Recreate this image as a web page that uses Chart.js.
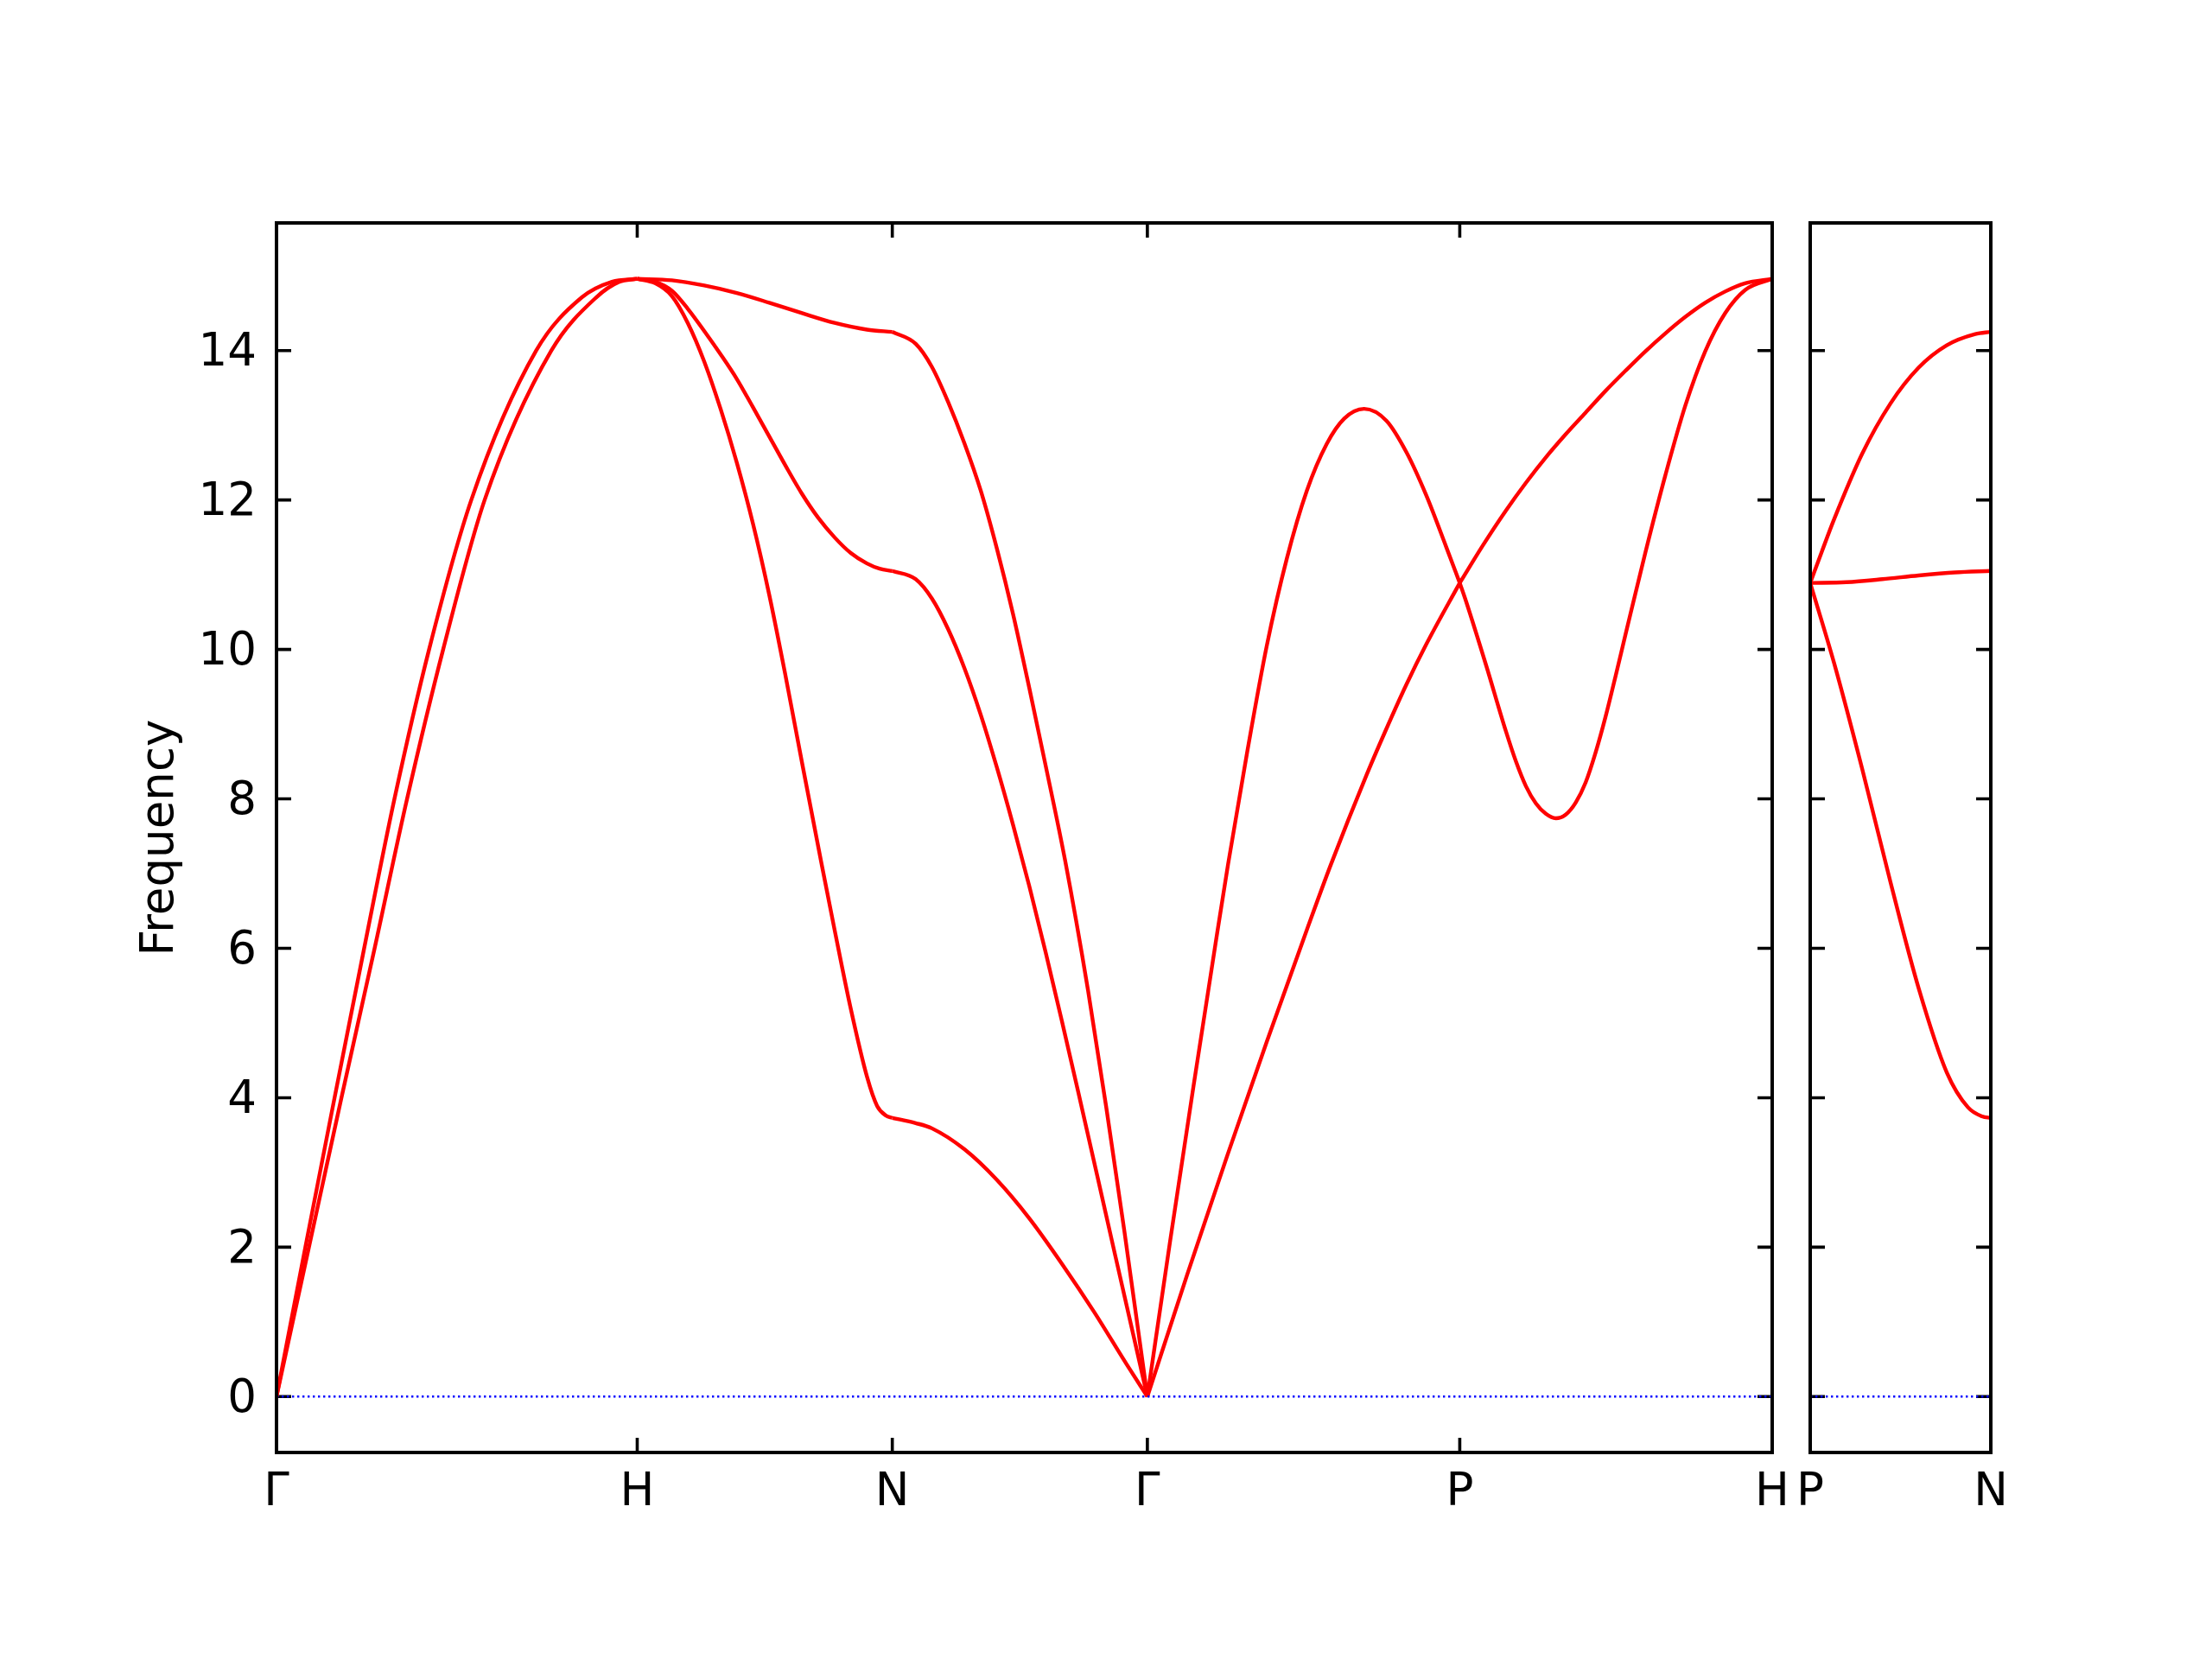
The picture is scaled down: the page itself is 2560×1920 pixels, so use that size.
<!DOCTYPE html>
<html>
<head>
<meta charset="utf-8">
<script src="https://cdn.jsdelivr.net/npm/chart.js@4/dist/chart.umd.min.js"></script>
<style>
  body { margin: 0; background: #fff; }
  #wrap { position: relative; width: 2560px; height: 1920px; }
  canvas { position: absolute; left: 0; top: 0; }
</style>
</head>
<body>
<div id="wrap">
  <canvas id="mainChart" width="2560" height="1920"></canvas>
  <canvas id="sideChart" width="2560" height="1920"></canvas>
</div>
<script>
// k-path ticks (path distance) and labels
const kPos = [0, 1, 1.7071, 2.4142, 3.2802, 4.1463];
const kLabels = ["Γ", "H", "N", "Γ", "P", "H"];
const sidePos = [0, 0.5];
const sideLabels = ["P", "N"];
const yTicks = [0, 2, 4, 6, 8, 10, 12, 14];
const yMin = -0.748;
const yMax = 15.708;

// Bands, segment by segment, as [distance, frequency]
const bandGH1 = [[0,0],[0.08,2],[0.161,4],[0.243,6],[0.327,8],[0.423,10],[0.54,12],[0.72,14],[0.846,14.71],[0.93,14.92],[1,14.96]];
const bandGH2 = [[0,0],[0.09,2],[0.18,4],[0.272,6],[0.362,8],[0.462,10],[0.577,12],[0.762,14],[0.886,14.71],[0.95,14.92],[1,14.96]];

const bandHN1 = [[1,14.96],[1.096,14.94],[1.186,14.87],[1.276,14.77],[1.366,14.64],[1.457,14.5],[1.547,14.37],[1.637,14.28],[1.7071,14.25]];
const bandHN2 = [[1,14.96],[1.05,14.92],[1.096,14.8],[1.14,14.56],[1.186,14.26],[1.231,13.95],[1.276,13.62],[1.321,13.24],[1.366,12.85],[1.411,12.46],[1.457,12.08],[1.502,11.76],[1.547,11.5],[1.592,11.29],[1.637,11.15],[1.672,11.08],[1.7071,11.05]];
const bandHN3 = [[1,14.96],[1.05,14.9],[1.096,14.73],[1.14,14.37],[1.186,13.85],[1.231,13.22],[1.276,12.5],[1.321,11.68],[1.366,10.73],[1.411,9.65],[1.457,8.48],[1.511,7.13],[1.547,6.25],[1.592,5.19],[1.637,4.28],[1.665,3.89],[1.69,3.76],[1.7071,3.73]];

const bandNG1 = [[1.7071,14.25],[1.772,14.09],[1.817,13.78],[1.862,13.31],[1.907,12.76],[1.952,12.13],[1.997,11.35],[2.042,10.47],[2.087,9.48],[2.132,8.45],[2.186,7.18],[2.25,5.43],[2.3,3.88],[2.35,2.23],[2.4142,0]];
const bandNG2 = [[1.7071,11.05],[1.772,10.94],[1.817,10.68],[1.862,10.27],[1.907,9.75],[1.952,9.13],[1.997,8.42],[2.042,7.65],[2.087,6.83],[2.132,5.95],[2.177,5.03],[2.222,4.09],[2.275,2.96],[2.326,1.87],[2.376,0.81],[2.4142,0]];
const bandNG3 = [[1.7071,3.73],[1.772,3.66],[1.817,3.59],[1.907,3.31],[1.997,2.9],[2.087,2.385],[2.177,1.78],[2.267,1.13],[2.357,0.43],[2.4142,0]];

const bandGP1 = [[2.4142,0],[2.478,2.106],[2.542,4.152],[2.603,6.058],[2.638,7.127],[2.6905,8.615],[2.7457,10.06],[2.801,11.22],[2.856,12.12],[2.9114,12.75],[2.96,13.09],[3.015,13.22],[3.077,13.06],[3.1322,12.64],[3.1875,12.06],[3.2427,11.37],[3.2802,10.89]];
const bandGP2 = [[2.4142,0],[2.5248,1.635],[2.6353,3.22],[2.7457,4.756],[2.8562,6.245],[2.9224,7.114],[3.0218,8.32],[3.077,8.94],[3.1322,9.53],[3.1875,10.07],[3.2802,10.89]];

const bandPH1 = [[3.2802,10.89],[3.2979,10.64],[3.3531,9.79],[3.4084,8.9],[3.436,8.5],[3.4636,8.17],[3.4912,7.94],[3.5188,7.8],[3.5464,7.74],[3.574,7.79],[3.6016,7.95],[3.6292,8.22],[3.6568,8.62],[3.6844,9.1],[3.712,9.64],[3.7397,10.2],[3.7949,11.3],[3.8501,12.33],[3.9053,13.26],[3.9606,13.99],[4.0158,14.5],[4.071,14.81],[4.1463,14.96]];
const bandPH2 = [[3.2802,10.89],[3.344,11.39],[3.4084,11.86],[3.4636,12.23],[3.5188,12.57],[3.574,12.88],[3.6292,13.17],[3.6844,13.46],[3.7397,13.73],[3.7949,13.99],[3.8501,14.23],[3.9053,14.45],[3.9606,14.64],[4.0158,14.79],[4.071,14.9],[4.1463,14.96]];

// second panel: P -> N
const bandPN1 = [[0,10.89],[0.033,11.32],[0.066,11.74],[0.144,12.62],[0.222,13.29],[0.3,13.77],[0.378,14.07],[0.457,14.22],[0.5,14.25]];
const bandPN2 = [[0,10.89],[0.1,10.9],[0.2,10.94],[0.3,10.99],[0.4,11.03],[0.5,11.05]];
const bandPN3 = [[0,10.89],[0.066,9.82],[0.144,8.4],[0.222,6.89],[0.3,5.47],[0.378,4.34],[0.437,3.87],[0.476,3.75],[0.5,3.73]];

const FONT = "DejaVu Sans";
const FONT_SIZE = 53;
const TICK_LEN = 17;

Chart.defaults.font.family = FONT;
Chart.defaults.color = "#000";

const toPoints = arr => arr.map(([x, y]) => ({ x, y }));

function bandDataset(arr) {
  return {
    data: toPoints(arr),
    borderColor: "#ff0000",
    borderWidth: 4.4,
    pointRadius: 0,
    fill: false,
    cubicInterpolationMode: "monotone",
  };
}

function zeroDataset(xFrom, xTo) {
  return {
    data: toPoints([[xFrom, 0], [xTo, 0]]),
    borderColor: "#0000ff",
    borderWidth: 2.5,
    borderDash: [2.4, 3.6],
    pointRadius: 0,
    fill: false,
  };
}

// inward ticks on all four sides + black frame
const axisFrame = {
  id: "axisFrame",
  beforeDatasetsDraw(chart, args, opts) {
    const { ctx, chartArea: a, scales: { x, y } } = chart;
    ctx.save();
    ctx.strokeStyle = "#000";
    ctx.lineWidth = 3.6;
    ctx.beginPath();
    opts.yTicks.forEach(v => {
      const py = y.getPixelForValue(v);
      ctx.moveTo(a.left, py); ctx.lineTo(a.left + TICK_LEN, py);
      ctx.moveTo(a.right, py); ctx.lineTo(a.right - TICK_LEN, py);
    });
    opts.xTicks.forEach(v => {
      const px = x.getPixelForValue(v);
      ctx.moveTo(px, a.bottom); ctx.lineTo(px, a.bottom - TICK_LEN);
      ctx.moveTo(px, a.top); ctx.lineTo(px, a.top + TICK_LEN);
    });
    ctx.stroke();
    ctx.restore();
  },
  afterDatasetsDraw(chart) {
    const { ctx, chartArea: a } = chart;
    ctx.save();
    ctx.strokeStyle = "#000";
    ctx.lineWidth = 4;
    ctx.strokeRect(a.left, a.top, a.right - a.left, a.bottom - a.top);
    ctx.restore();
  },
};

function makeOptions(cfg) {
  return {
    responsive: false,
    animation: false,
    events: [],
    layout: { padding: { left: 0, top: 258, right: cfg.rightPad, bottom: 0 } },
    plugins: {
      legend: { display: false },
      tooltip: { enabled: false },
      axisFrame: { xTicks: cfg.xTicks, yTicks: yTicks },
    },
    scales: {
      x: {
        type: "linear",
        min: cfg.xMin,
        max: cfg.xMax,
        bounds: "data",
        grid: { display: false, drawTicks: false },
        border: { display: false },
        afterBuildTicks: s => { s.ticks = cfg.xTicks.map(v => ({ value: v })); },
        afterFit: s => { s.height = 239; },
        ticks: {
          autoSkip: false,
          maxRotation: 0,
          minRotation: 0,
          padding: 15,
          font: { size: FONT_SIZE },
          callback: (v, i) => cfg.xLabels[i],
        },
      },
      y: {
        type: "linear",
        min: yMin,
        max: yMax,
        bounds: "data",
        grid: { display: false, drawTicks: false },
        border: { display: false },
        afterBuildTicks: s => { s.ticks = yTicks.map(v => ({ value: v })); },
        afterFit: s => { s.width = cfg.yWidth; },
        ticks: {
          display: cfg.showY,
          padding: 23,
          labelOffset: 4,
          font: { size: FONT_SIZE },
        },
        title: {
          display: cfg.showY,
          text: "Frequency",
          font: { size: FONT_SIZE },
          padding: { top: 154, bottom: 0 },
        },
      },
    },
  };
}

new Chart(document.getElementById("mainChart"), {
  type: "line",
  data: {
    datasets: [
      zeroDataset(kPos[0], kPos[kPos.length - 1]),
      bandDataset(bandGH1), bandDataset(bandGH2),
      bandDataset(bandHN1), bandDataset(bandHN2), bandDataset(bandHN3),
      bandDataset(bandNG1), bandDataset(bandNG2), bandDataset(bandNG3),
      bandDataset(bandGP1), bandDataset(bandGP2),
      bandDataset(bandPH1), bandDataset(bandPH2),
    ],
  },
  options: makeOptions({
    xMin: kPos[0], xMax: kPos[kPos.length - 1],
    xTicks: kPos, xLabels: kLabels,
    yWidth: 320, rightPad: 509, showY: true,
  }),
  plugins: [axisFrame],
});

new Chart(document.getElementById("sideChart"), {
  type: "line",
  data: {
    datasets: [
      zeroDataset(sidePos[0], sidePos[1]),
      bandDataset(bandPN1), bandDataset(bandPN2), bandDataset(bandPN3),
    ],
  },
  options: makeOptions({
    xMin: sidePos[0], xMax: sidePos[1],
    xTicks: sidePos, xLabels: sideLabels,
    yWidth: 2095, rightPad: 256, showY: false,
  }),
  plugins: [axisFrame],
});
</script>
</body>
</html>
